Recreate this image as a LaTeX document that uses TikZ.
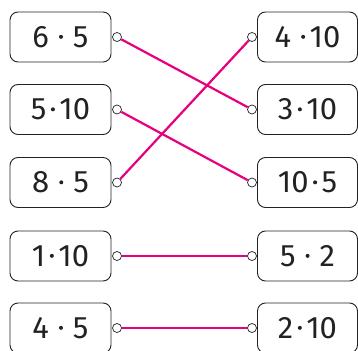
\documentclass[tikz,border=0pt]{standalone}
\usepackage{fontspec}
\setmainfont{Fira Sans}
\definecolor{mag}{HTML}{E6007E}
\definecolor{ink}{HTML}{222222}
\newcommand\mdt{\tikz[baseline=-10.5pt]\fill[ink] (0,0) circle (2pt);}
\newcommand\wsp{\hspace{10pt}}
\newcommand\nsp{\hspace{4.5pt}}
\begin{document}
\begin{tikzpicture}[x=1pt,y=-1pt,
  box/.style={draw=ink, line width=0.9pt, rounded corners=8pt, minimum width=101pt, minimum height=50pt, inner sep=0pt, text=ink, font=\fontsize{31}{31}\selectfont},
  ring/.style={circle, draw=ink, fill=white, line width=0.7pt, minimum size=9pt, inner sep=0pt},
  link/.style={draw=mag, line width=2.2pt}]
\useasboundingbox (0,0) rectangle (358,350);
\clip (0,0) rectangle (358,350);
% left boxes
\node[box] (a1) at (60.5,37) {6\wsp\mdt\wsp5};
\node[box] (a2) at (60.5,109.5) {5\nsp\mdt\nsp10};
\node[box] (a3) at (60.5,182.5) {8\wsp\mdt\wsp5};
\node[box] (a4) at (60.5,256) {1\nsp\mdt\nsp10};
\node[box] (a5) at (60.5,328) {4\wsp\mdt\wsp5};
% right boxes
\node[box, minimum width=100pt] (b1) at (307.5,37) {4\wsp\mdt\nsp10};
\node[box, minimum width=100pt] (b2) at (307.5,109.5) {3\nsp\mdt\nsp10};
\node[box, minimum width=100pt] (b3) at (307.5,182.5) {10\nsp\mdt\nsp5};
\node[box, minimum width=100pt] (b4) at (307.5,256) {5\wsp\mdt\wsp2};
\node[box, minimum width=100pt] (b5) at (307.5,328) {2\nsp\mdt\nsp10};
% rings
\foreach \i/\y in {1/37,2/109.5,3/182.5,4/256,5/328}{
  \node[ring] (l\i) at (117,\y) {};
  \node[ring] (r\i) at (252,\y) {};
}
% links
\draw[link] (l1) -- (r2);
\draw[link] (l2) -- (r3);
\draw[link] (l3) -- (r1);
\draw[link] (l4) -- (r4);
\draw[link] (l5) -- (r5);
\end{tikzpicture}
\end{document}
